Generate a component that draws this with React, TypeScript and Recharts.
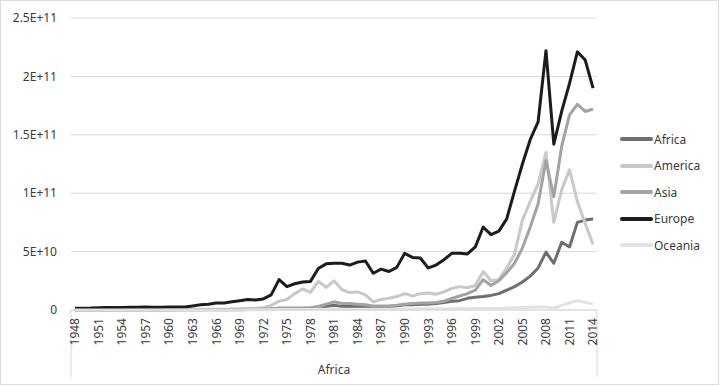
import { LineChart, Line, XAxis, YAxis, CartesianGrid } from "recharts";

// values in billions (1E+9)
const years = [
    1948, 1949, 1950, 1951, 1952, 1953, 1954, 1955, 1956, 1957, 1958, 1959, 1960, 1961, 1962, 1963, 1964,
    1965, 1966, 1967, 1968, 1969, 1970, 1971, 1972, 1973, 1974, 1975, 1976, 1977, 1978, 1979, 1980, 1981,
    1982, 1983, 1984, 1985, 1986, 1987, 1988, 1989, 1990, 1991, 1992, 1993, 1994, 1995, 1996, 1997, 1998,
    1999, 2000, 2001, 2002, 2003, 2004, 2005, 2006, 2007, 2008, 2009, 2010, 2011, 2012, 2013, 2014,
];

const africa = [
    0.1, 0.1, 0.1, 0.1, 0.1, 0.1, 0.1, 0.1, 0.1, 0.1, 0.1, 0.1, 0.1, 0.2, 0.2, 0.2, 0.2,
    0.2, 0.3, 0.3, 0.3, 0.3, 0.4, 0.4, 0.5, 0.8, 1.5, 1.5, 1.5, 1.5, 1.5, 2, 3, 4,
    3, 3, 3, 3, 2.5, 2.5, 3, 3.5, 4.5, 4.5, 5, 5, 5.5, 6.5, 7.5, 8, 10,
    11, 11.5, 12.5, 14, 17, 20, 24, 29, 36, 49.5, 40, 58, 54, 75, 77, 78,
];

const america = [
    0.3, 0.3, 0.3, 0.3, 0.3, 0.3, 0.3, 0.3, 0.3, 0.3, 0.3, 0.3, 0.3, 0.4, 0.4, 0.5, 0.5,
    0.6, 0.7, 0.7, 0.8, 0.9, 1.2, 1.5, 2, 4, 7.5, 9, 14, 18, 15, 24.5, 19.5, 25,
    17.5, 15, 15.5, 13, 7, 9, 10, 11.5, 14, 12, 14, 14.5, 13.5, 15.5, 18.5, 20, 19,
    21, 33, 25, 26, 36, 48, 77, 93, 108, 135, 75, 103, 120, 93, 74, 56,
];

const asia = [
    0.2, 0.2, 0.2, 0.2, 0.2, 0.2, 0.2, 0.2, 0.2, 0.2, 0.2, 0.2, 0.3, 0.3, 0.3, 0.3, 0.4,
    0.4, 0.4, 0.5, 0.5, 0.6, 0.6, 0.7, 0.8, 1, 1.5, 1.5, 1.5, 1.5, 2, 3, 5, 7,
    5.5, 5.5, 5, 4.5, 3.5, 3.5, 3.5, 4, 5, 5.5, 6, 6, 6.5, 7.5, 10, 12, 14,
    17, 26, 21, 25, 32, 40, 53, 71, 91, 128, 97, 140, 167, 176, 170, 172,
];

const europe = [
    1.5, 1.6, 1.7, 2, 2.2, 2.1, 2.2, 2.3, 2.3, 2.5, 2.3, 2.4, 2.5, 2.5, 2.6, 3.5, 4.5,
    5, 6, 6, 7, 8, 9, 8.5, 9.5, 13, 26, 20, 22.5, 24, 24.5, 35.5, 39.5, 40,
    40, 38.5, 41, 42, 31.5, 35, 33, 36.5, 48.5, 45, 44.5, 36, 38.5, 43, 48.5, 48.5, 48,
    54, 71, 64.5, 67.5, 78, 102, 125, 146, 161, 222, 142, 170, 194, 221, 214, 190,
];

const oceania = [
    0.1, 0.1, 0.1, 0.1, 0.1, 0.1, 0.1, 0.1, 0.1, 0.1, 0.1, 0.1, 0.1, 0.1, 0.1, 0.1, 0.1,
    0.1, 0.1, 0.1, 0.1, 0.1, 0.2, 0.2, 0.2, 0.3, 0.4, 0.4, 0.4, 0.4, 0.5, 0.6, 0.7, 0.8,
    0.7, 0.7, 0.7, 0.7, 0.6, 0.6, 0.7, 0.8, 0.9, 0.9, 1, 1, 1, 1.1, 1.2, 1.3, 1.3,
    1.4, 1.6, 1.5, 1.6, 1.8, 2, 2.2, 2.4, 2.6, 2.5, 1.5, 4, 6, 8, 6.5, 5,
];

const region = "Africa";
const yTicks = [0, 5e10, 1e11, 1.5e11, 2e11, 2.5e11];

const series = [
    { key: "Africa", values: africa, color: "#6e6e6e" },
    { key: "America", values: america, color: "#c8c8c8" },
    { key: "Asia", values: asia, color: "#a3a3a3" },
    { key: "Europe", values: europe, color: "#1c1c1c" },
    { key: "Oceania", values: oceania, color: "#e2e2e2" },
];

const data = years.map((year, i) => {
    const row: Record<string, number | string> = { year: String(year) };
    series.forEach((s) => {
        row[s.key] = s.values[i] * 1e9;
    });
    return row;
});

const FONT = "'Noto Sans', sans-serif";
const TEXT = "#3a3a3a";
const TICK_GAP = 8;
const PLOT_W = 526;
const HALF_BAND = PLOT_W / years.length / 2; // Excel puts points in the middle of each category slot

const formatY = (v: number) => (v === 0 ? "0" : v.toExponential().toUpperCase());

type TickProps = { x?: number; y?: number; payload?: { value: string } };

// year label, plus the outer-level border lines at the first and last category
const YearTick = ({ x = 0, y = 0, payload }: TickProps) => {
    const first = payload?.value === String(years[0]);
    const last = payload?.value === String(years[years.length - 1]);
    return (
        <g transform={`translate(${x},${y})`}>
            {first && <line x1={-HALF_BAND} x2={-HALF_BAND} y1={-TICK_GAP} y2={59} stroke="#d9d9d9" />}
            {last && <line x1={HALF_BAND} x2={HALF_BAND} y1={-TICK_GAP} y2={59} stroke="#d9d9d9" />}
            <text transform="rotate(-90)" x={0} y={0} dy="0.36em" textAnchor="end" fill={TEXT} fontSize={12} fontFamily={FONT}>
                {payload?.value}
            </text>
        </g>
    );
};

export default function App() {
    return (
        <div style={{ position: "absolute", left: 0, top: 0, width: 720, height: 386, background: "#fff", fontFamily: FONT }}>
            <div
                style={{
                    position: "absolute",
                    left: 0,
                    top: 0,
                    width: 719,
                    height: 385,
                    border: "1px solid #dcdcdc",
                    boxSizing: "border-box",
                }}
            />
            <LineChart width={720} height={386} data={data} margin={{ top: 18, right: 123, left: 0, bottom: 0 }}>
                <CartesianGrid vertical={false} stroke="#d9d9d9" strokeWidth={1} />
                <XAxis
                    dataKey="year"
                    interval={2}
                    height={76}
                    padding={{ left: HALF_BAND, right: HALF_BAND }}
                    tickLine={false}
                    tickSize={0}
                    tickMargin={TICK_GAP}
                    axisLine={{ stroke: "#d9d9d9" }}
                    tick={<YearTick />}
                    label={{ value: region, position: "insideBottom", offset: 12, fill: TEXT, fontSize: 12, fontFamily: FONT }}
                />
                <YAxis
                    domain={[0, 2.5e11]}
                    ticks={yTicks}
                    width={71}
                    axisLine={false}
                    tickLine={false}
                    tickSize={0}
                    tickMargin={14}
                    tickFormatter={formatY}
                    tick={{ fill: TEXT, fontSize: 12, fontFamily: FONT }}
                />
                {series.map((s) => (
                    <Line
                        key={s.key}
                        type="linear"
                        dataKey={s.key}
                        stroke={s.color}
                        strokeWidth={3}
                        strokeLinejoin="round"
                        dot={false}
                        isAnimationActive={false}
                    />
                ))}
            </LineChart>
            <div style={{ position: "absolute", left: 620, top: 126 }}>
                {series.map((s) => (
                    <div key={s.key} style={{ display: "flex", alignItems: "center", height: 26.5 }}>
                        <div style={{ width: 33, height: 4, background: s.color, borderRadius: 2 }} />
                        <span style={{ fontSize: 12, color: TEXT, marginLeft: 1 }}>{s.key}</span>
                    </div>
                ))}
            </div>
        </div>
    );
}
